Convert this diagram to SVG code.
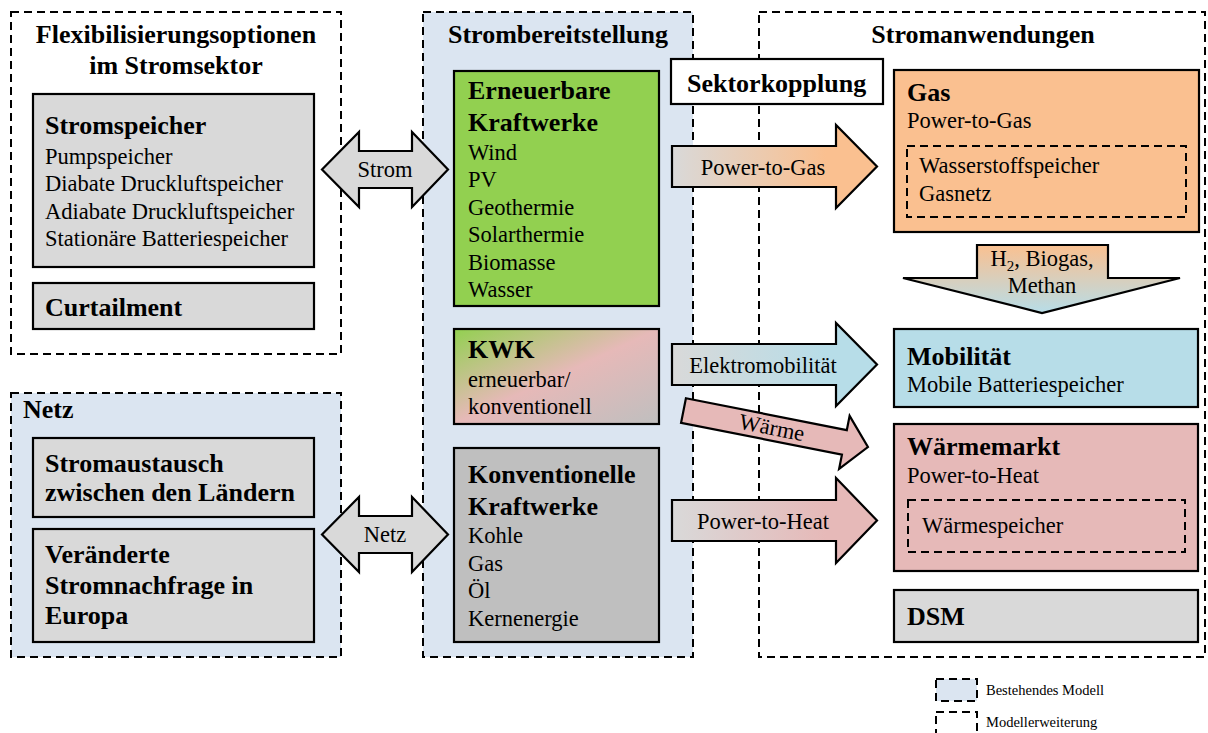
<svg xmlns="http://www.w3.org/2000/svg" width="1208" height="733" viewBox="0 0 1208 733">
  <defs>
    <style>
      text { font-family: "Liberation Serif", "Times New Roman", serif; fill: #000; }
      .b { font-weight: bold; font-size: 26px; }
      .r { font-size: 22.5px; }
      .s { font-size: 14.5px; }
      .mid { text-anchor: middle; }
      .dash { fill: none; stroke: #000; stroke-width: 2; stroke-dasharray: 8 5; }
      .dashfill { fill: #dbe5f1; stroke: #000; stroke-width: 2; stroke-dasharray: 8 5; }
      .box { stroke: #000; stroke-width: 2.2; }
      .arrow { stroke: #000; stroke-width: 2.2; stroke-linejoin: miter; }
    </style>
    <linearGradient id="gGas" x1="0" y1="0" x2="1" y2="0">
      <stop offset="0" stop-color="#d9d9d9"/>
      <stop offset="0.75" stop-color="#fac090"/>
    </linearGradient>
    <linearGradient id="gMob" x1="0" y1="0" x2="1" y2="0">
      <stop offset="0" stop-color="#d9d9d9"/>
      <stop offset="0.75" stop-color="#b7dde8"/>
    </linearGradient>
    <linearGradient id="gHeat" x1="0" y1="0" x2="1" y2="0">
      <stop offset="0" stop-color="#d9d9d9"/>
      <stop offset="0.75" stop-color="#e6b9b8"/>
    </linearGradient>
    <linearGradient id="gDown" x1="0" y1="0" x2="0" y2="1">
      <stop offset="0" stop-color="#fac090"/>
      <stop offset="1" stop-color="#b7dde8"/>
    </linearGradient>
    <linearGradient id="gKwk" x1="0" y1="0" x2="1" y2="1">
      <stop offset="0" stop-color="#92d050"/>
      <stop offset="0.5" stop-color="#e6b9b8"/>
      <stop offset="1" stop-color="#bfbfbf"/>
    </linearGradient>
  </defs>

  <rect width="1208" height="733" fill="#fff"/>

  <!-- Flexibilisierungsoptionen -->
  <g id="flex">
    <rect class="dash" x="11" y="12" width="330" height="342"/>
    <text class="b mid" x="176" y="43">Flexibilisierungsoptionen</text>
    <text class="b mid" x="176" y="74">im Stromsektor</text>
  </g>
  <g id="stromspeicher">
    <rect class="box" x="33" y="94" width="281" height="173" fill="#d9d9d9"/>
    <text class="b" x="45" y="134">Stromspeicher</text>
    <text class="r" x="45" y="164">Pumpspeicher</text>
    <text class="r" x="45" y="191">Diabate Druckluftspeicher</text>
    <text class="r" x="45" y="219">Adiabate Druckluftspeicher</text>
    <text class="r" x="45" y="246">Stationäre Batteriespeicher</text>
  </g>
  <g id="curtailment">
    <rect class="box" x="33" y="283" width="281" height="46" fill="#d9d9d9"/>
    <text class="b" x="45" y="316">Curtailment</text>
  </g>

  <!-- Netz -->
  <g id="netz">
    <rect class="dashfill" x="11" y="393" width="330" height="264"/>
    <text class="b" x="23" y="418">Netz</text>
  </g>
  <g id="stromaustausch">
    <rect class="box" x="33" y="438" width="281" height="79" fill="#d9d9d9"/>
    <text class="b" x="45" y="472">Stromaustausch</text>
    <text class="b" x="45" y="501">zwischen den Ländern</text>
  </g>
  <g id="nachfrage">
    <rect class="box" x="33" y="529" width="281" height="113" fill="#d9d9d9"/>
    <text class="b" x="45" y="563">Veränderte</text>
    <text class="b" x="45" y="594">Stromnachfrage in</text>
    <text class="b" x="45" y="624">Europa</text>
  </g>

  <!-- Strombereitstellung -->
  <g id="bereitstellung">
    <rect class="dashfill" x="423" y="12" width="270" height="645"/>
    <text class="b mid" x="558" y="43">Strombereitstellung</text>
  </g>
  <g id="erneuerbare">
    <rect class="box" x="454" y="71" width="205" height="235" fill="#92d050"/>
    <text class="b" x="468" y="99">Erneuerbare</text>
    <text class="b" x="468" y="131">Kraftwerke</text>
    <text class="r" x="468" y="160">Wind</text>
    <text class="r" x="468" y="187">PV</text>
    <text class="r" x="468" y="215">Geothermie</text>
    <text class="r" x="468" y="242">Solarthermie</text>
    <text class="r" x="468" y="270">Biomasse</text>
    <text class="r" x="468" y="297">Wasser</text>
  </g>
  <g id="kwk">
    <rect class="box" x="454" y="329" width="205" height="95" fill="url(#gKwk)"/>
    <text class="b" x="468" y="358">KWK</text>
    <text class="r" x="468" y="387">erneuerbar/</text>
    <text class="r" x="468" y="414">konventionell</text>
  </g>
  <g id="konventionelle">
    <rect class="box" x="454" y="448" width="205" height="194" fill="#bfbfbf"/>
    <text class="b" x="468" y="483">Konventionelle</text>
    <text class="b" x="468" y="515">Kraftwerke</text>
    <text class="r" x="468" y="543">Kohle</text>
    <text class="r" x="468" y="571">Gas</text>
    <text class="r" x="468" y="598">Öl</text>
    <text class="r" x="468" y="626">Kernenergie</text>
  </g>

  <!-- Stromanwendungen -->
  <g id="anwendungen">
    <rect class="dash" x="759" y="12" width="446" height="645"/>
    <text class="b mid" x="983" y="43">Stromanwendungen</text>
  </g>
  <g id="gas">
    <rect class="box" x="894" y="70" width="305" height="162" fill="#fac090"/>
    <text class="b" x="907" y="101">Gas</text>
    <text class="r" x="907" y="128">Power-to-Gas</text>
    <rect class="dash" x="907" y="146" width="279" height="71"/>
    <text class="r" x="919" y="173">Wasserstoffspeicher</text>
    <text class="r" x="919" y="201">Gasnetz</text>
  </g>
  <g id="mobilitaet">
    <rect class="box" x="894" y="329" width="304" height="78" fill="#b7dde8"/>
    <text class="b" x="907" y="365">Mobilität</text>
    <text class="r" x="907" y="392">Mobile Batteriespeicher</text>
  </g>
  <g id="waermemarkt">
    <rect class="box" x="894" y="424" width="304" height="147" fill="#e6b9b8"/>
    <text class="b" x="907" y="455">Wärmemarkt</text>
    <text class="r" x="907" y="483">Power-to-Heat</text>
    <rect class="dash" x="908" y="500" width="277" height="52"/>
    <text class="r" x="922" y="533">Wärmespeicher</text>
  </g>
  <g id="dsm">
    <rect class="box" x="894" y="590" width="304" height="52" fill="#d9d9d9"/>
    <text class="b" x="907" y="625">DSM</text>
  </g>

  <!-- Sektorkopplung label -->
  <g id="sektorkopplung">
    <rect class="box" x="671" y="59" width="212" height="45" fill="#fff"/>
    <text class="b" x="687" y="92">Sektorkopplung</text>
  </g>

  <!-- Connectors -->
  <g id="connectors">
    <g id="c-strom">
      <polygon class="arrow" fill="#d9d9d9" points="322,169.5 359,132 359,151 412,151 412,132 448,169.5 412,207 412,188 359,188 359,207"/>
      <text class="r mid" x="385" y="177">Strom</text>
    </g>
    <g id="c-netz">
      <polygon class="arrow" fill="#d9d9d9" points="322,534.5 359,497 359,516 412,516 412,497 448,534.5 412,572 412,553 359,553 359,572"/>
      <text class="r mid" x="385" y="542">Netz</text>
    </g>
    <g id="c-p2g">
      <polygon class="arrow" fill="url(#gGas)" points="672,146 836,146 836,125 877,166.5 836,208 836,187 672,187"/>
      <text class="r mid" x="763" y="175">Power-to-Gas</text>
    </g>
    <g id="c-emob">
      <polygon class="arrow" fill="url(#gMob)" points="672,344 836,344 836,323 877,364.5 836,406 836,385 672,385"/>
      <text class="r mid" x="763" y="373">Elektromobilität</text>
    </g>
    <g id="c-waerme" transform="translate(683.5,410.5) rotate(11.2)">
      <polygon class="arrow" fill="#e6b9b8" points="0,-12.5 164,-12.5 164,-27 188,0 164,27 164,12.5 0,12.5"/>
      <text class="r mid" x="90" y="7">Wärme</text>
    </g>
    <g id="c-p2h">
      <polygon class="arrow" fill="url(#gHeat)" points="672,500 836,500 836,478 877,520.5 836,563 836,541 672,541"/>
      <text class="r mid" x="763" y="529">Power-to-Heat</text>
    </g>
    <g id="c-gas-mob">
      <polygon class="arrow" fill="url(#gDown)" points="977,245 1108,245 1108,278 1180,278 1042,313 903,278 977,278"/>
      <text class="r mid" x="1042" y="266">H<tspan dy="5" font-size="15">2</tspan><tspan dy="-5">, Biogas,</tspan></text>
      <text class="r mid" x="1042" y="293">Methan</text>
    </g>
  </g>

  <!-- Legend -->
  <g id="legend">
    <rect class="dashfill" x="936" y="679" width="41" height="22"/>
    <text class="s" x="986" y="695">Bestehendes Modell</text>
    <rect class="dash" x="936" y="712" width="41" height="30"/>
    <text class="s" x="986" y="727">Modellerweiterung</text>
  </g>
</svg>
